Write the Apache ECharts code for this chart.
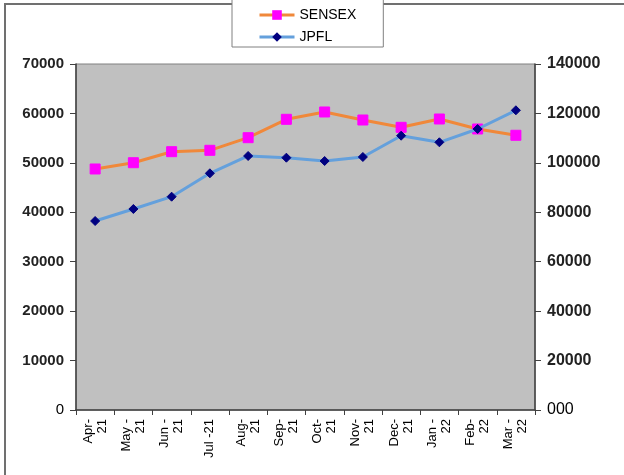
<!DOCTYPE html>
<html>
<head>
<meta charset="utf-8">
<script src="https://cdn.jsdelivr.net/npm/echarts@6/dist/echarts.min.js"></script>
<style>html,body{margin:0;padding:0;background:#fff;}#c{width:624px;height:475px;}</style>
</head>
<body>
<div id="c"></div>
<script>
const categories = ['Apr-\n21','May -\n21','Jun -\n21','Jul -21','Aug-\n21','Sep-\n21','Oct-\n21','Nov-\n21','Dec-\n21','Jan -\n22','Feb-\n22','Mar -\n22'];
const sensex = [48760, 50030, 52260, 52540, 55090, 58810, 60290, 58670, 57190, 58870, 56850, 55580];
const jpfl = [76470, 81330, 86310, 95770, 102780, 102090, 100750, 102370, 110990, 108320, 113700, 121270];
const leftTicks = [0, 10000, 20000, 30000, 40000, 50000, 60000, 70000];
const rightTicks = [0, 20000, 40000, 60000, 80000, 100000, 120000, 140000];

const chart = echarts.init(document.getElementById('c'), null, {renderer: 'canvas'});
const font = 'Liberation Sans, Arial, sans-serif';
const axisLine = {show: true, lineStyle: {color: '#404040', width: 1.5}};
chart.setOption({
  backgroundColor: '#ffffff',
  animation: false,
  textStyle: {fontFamily: font},
  graphic: [{
    type: 'polyline', z: 0,
    shape: {points: [[5, 480], [5, 4], [630, 4]]},
    style: {stroke: '#707070', lineWidth: 2, fill: null}
  }],
  legend: {
    orient: 'vertical',
    left: 232, top: -4,
    padding: [12, 27, 3, 26],
    itemGap: 8,
    itemWidth: 35, itemHeight: 12,
    backgroundColor: '#ffffff',
    borderColor: '#808080', borderWidth: 1,
    lineStyle: {width: 3},
    textStyle: {fontFamily: font, fontSize: 14, color: '#000'},
    data: ['SENSEX', 'JPFL'],
    z: 10
  },
  grid: {
    left: 76, right: 89, top: 64, bottom: 65,
    show: true, backgroundColor: '#C0C0C0', borderColor: '#808080', borderWidth: 1
  },
  xAxis: {
    type: 'category',
    data: categories,
    boundaryGap: true,
    axisLine: axisLine,
    axisTick: {show: true, length: 5, lineStyle: {color: '#404040'}},
    axisLabel: {rotate: 90, interval: 0, fontFamily: font, fontSize: 13, color: '#000', margin: 9, lineHeight: 14}
  },
  yAxis: [{
    type: 'value', min: 0, max: 70000, interval: 10000,
    axisLine: axisLine,
    axisTick: {show: true, length: 6, lineStyle: {color: '#404040'}},
    splitLine: {show: false},
    axisLabel: {
      margin: 12, fontFamily: font,
      formatter: v => leftTicks.indexOf(v) >= 0 ? (v === 0 ? '{n|0}' : '{b|' + v + '}') : '',
      rich: {b: {fontWeight: 'bold', fontSize: 15, color: '#222', fontFamily: font}, n: {fontSize: 15, color: '#000', fontFamily: font}}
    }
  }, {
    type: 'value', min: 0, max: 140000, interval: 20000,
    position: 'right',
    axisLine: axisLine,
    axisTick: {show: true, length: 6, lineStyle: {color: '#404040'}},
    splitLine: {show: false},
    axisLabel: {
      margin: 12, fontFamily: font,
      formatter: v => rightTicks.indexOf(v) >= 0 ? (v === 0 ? '{n|000}' : '{b|' + v + '}') : '',
      rich: {b: {fontWeight: 'bold', fontSize: 16, color: '#222', fontFamily: font}, n: {fontSize: 16, color: '#000', fontFamily: font}}
    }
  }],
  series: [{
    name: 'SENSEX', type: 'line', yAxisIndex: 0, data: sensex,
    symbol: 'rect', symbolSize: 10,
    lineStyle: {color: '#F0883A', width: 3},
    itemStyle: {color: '#FF00FF', borderColor: '#FF00FF'},
    z: 3
  }, {
    name: 'JPFL', type: 'line', yAxisIndex: 1, data: jpfl,
    symbol: 'diamond', symbolSize: 9,
    lineStyle: {color: '#64A0DC', width: 3},
    itemStyle: {color: '#000080', borderColor: '#000080'},
    z: 4
  }]
});
</script>
</body>
</html>
